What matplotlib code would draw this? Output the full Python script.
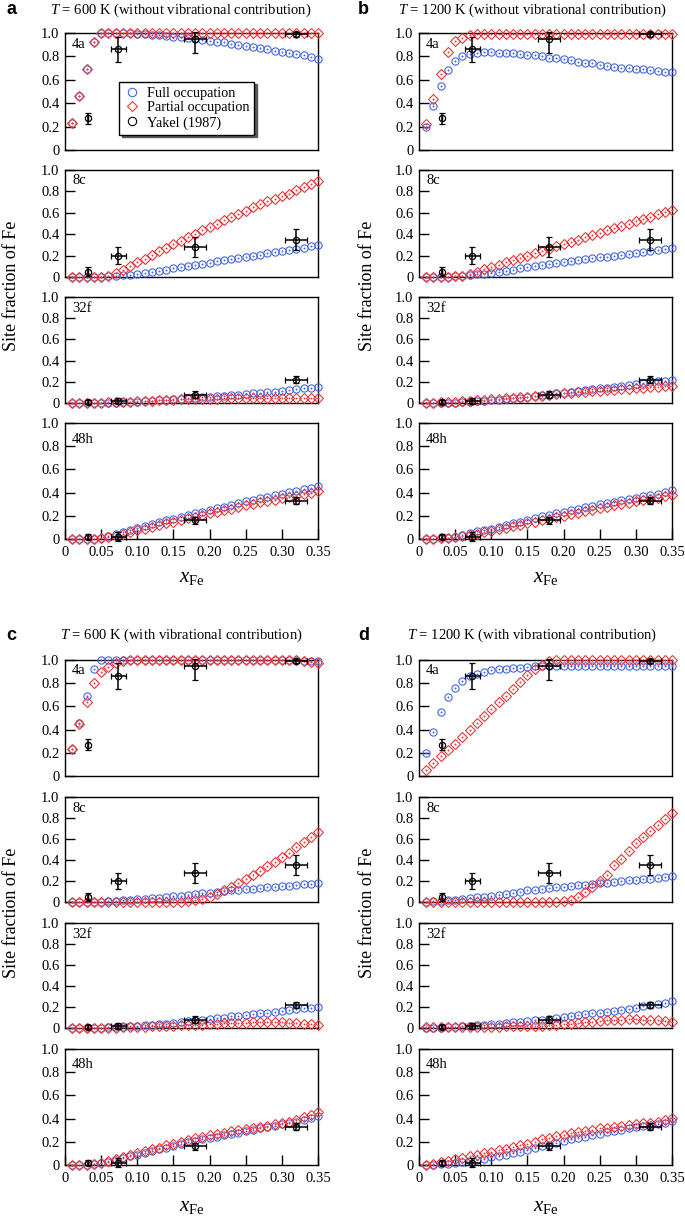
import matplotlib
matplotlib.use('Agg')
import matplotlib.pyplot as plt
from matplotlib.lines import Line2D
import numpy as np

plt.rcParams['font.family'] = ['Liberation Serif', 'DejaVu Serif']
plt.rcParams['mathtext.fontset'] = 'custom'
plt.rcParams['mathtext.rm'] = 'Liberation Serif'
plt.rcParams['mathtext.it'] = 'Liberation Serif:italic'

# ---------------- data ----------------
x_fe = [0.01, 0.02, 0.03, 0.04, 0.05, 0.06, 0.07,
        0.08, 0.09, 0.10, 0.11, 0.12, 0.13, 0.14,
        0.15, 0.16, 0.17, 0.18, 0.19, 0.20, 0.21,
        0.22, 0.23, 0.24, 0.25, 0.26, 0.27, 0.28,
        0.29, 0.30, 0.31, 0.32, 0.33, 0.34, 0.35]

sites = ['4a', '8c', '32f', '48h']
x_ticks = [0, 0.05, 0.10, 0.15, 0.20, 0.25, 0.30, 0.35]
x_ticklabels = ['0', '0.05', '0.10', '0.15', '0.20', '0.25', '0.30', '0.35']
y_ticks = [0, 0.2, 0.4, 0.6, 0.8, 1.0]
y_ticklabels = ['0', '0.2', '0.4', '0.6', '0.8', '1.0']

# Yakel (1987) experimental values
yakel_x = [0.032, 0.074, 0.18, 0.32]
yakel_xerr = [0.0, 0.010, 0.015, 0.015]
yakel_4a = [0.27, 0.86, 0.945, 0.99]
yakel_4a_err_lo = [0.045, 0.11, 0.12, 0.02]
yakel_4a_err_hi = [0.045, 0.11, 0.06, 0.02]
yakel_8c = [0.05, 0.20, 0.28, 0.35]
yakel_8c_err = [0.04, 0.08, 0.095, 0.095]
yakel_32f = [0.01, 0.02, 0.08, 0.22]
yakel_32f_err = [0.02, 0.03, 0.03, 0.03]
yakel_48h = [0.02, 0.02, 0.16, 0.33]
yakel_48h_err = [0.02, 0.04, 0.03, 0.03]

# ---- panel a: T = 600 K, without vibrational contribution ----
a_4a_full = [0.23, 0.46, 0.69, 0.92, 1.00, 1.00, 1.00,
             1.00, 0.997, 0.994, 0.99, 0.986, 0.981, 0.976,
             0.97, 0.964, 0.957, 0.95, 0.943, 0.935, 0.927,
             0.919, 0.91, 0.90, 0.89, 0.88, 0.87, 0.86,
             0.85, 0.84, 0.83, 0.82, 0.81, 0.795, 0.78]
a_4a_part = [0.23, 0.46, 0.69, 0.92, 1.00, 1.00, 1.00,
             1.00, 1.00, 1.00, 1.00, 1.00, 1.00, 1.00,
             1.00, 1.00, 1.00, 1.00, 1.00, 1.00, 1.00,
             1.00, 1.00, 1.00, 1.00, 1.00, 1.00, 1.00,
             1.00, 1.00, 1.00, 1.00, 1.00, 1.00, 1.00]
a_8c_full = [0, 0, 0, 0, 0, 0.005, 0.01,
             0.015, 0.02, 0.03, 0.04, 0.05, 0.06, 0.07,
             0.08, 0.09, 0.10, 0.11, 0.12, 0.135, 0.145,
             0.155, 0.165, 0.175, 0.19, 0.20, 0.21, 0.225,
             0.235, 0.245, 0.255, 0.265, 0.275, 0.29, 0.30]
a_8c_part = [0, 0, 0, 0, 0, 0.01, 0.04,
             0.07, 0.10, 0.14, 0.17, 0.21, 0.24, 0.27,
             0.31, 0.34, 0.37, 0.40, 0.44, 0.47, 0.50,
             0.53, 0.56, 0.59, 0.62, 0.65, 0.68, 0.71,
             0.73, 0.76, 0.78, 0.81, 0.84, 0.87, 0.90]
a_32f_full = [0, 0, 0, 0, 0, 0, 0,
              0.005, 0.008, 0.01, 0.015, 0.02, 0.025, 0.03,
              0.035, 0.04, 0.045, 0.05, 0.055, 0.06, 0.065,
              0.07, 0.075, 0.08, 0.085, 0.09, 0.095, 0.10,
              0.108, 0.115, 0.122, 0.13, 0.138, 0.146, 0.155]
a_32f_part = [0, 0, 0, 0, 0, 0.005, 0.007,
              0.01, 0.013, 0.016, 0.02, 0.023, 0.026, 0.03,
              0.032, 0.034, 0.036, 0.038, 0.04, 0.041, 0.042,
              0.043, 0.044, 0.045, 0.045, 0.046, 0.046, 0.046,
              0.046, 0.046, 0.046, 0.046, 0.045, 0.045, 0.045]
a_48h_full = [0, 0, 0, 0, 0.01, 0.025, 0.04,
              0.06, 0.08, 0.095, 0.11, 0.13, 0.145, 0.16,
              0.175, 0.19, 0.205, 0.22, 0.235, 0.25, 0.265,
              0.28, 0.295, 0.31, 0.325, 0.34, 0.355, 0.365,
              0.38, 0.39, 0.405, 0.415, 0.43, 0.44, 0.455]
a_48h_part = [0, 0, 0, 0, 0.005, 0.015, 0.03,
              0.045, 0.06, 0.075, 0.09, 0.105, 0.12, 0.135,
              0.15, 0.165, 0.18, 0.19, 0.205, 0.22, 0.235,
              0.25, 0.26, 0.275, 0.29, 0.30, 0.315, 0.33,
              0.34, 0.355, 0.365, 0.375, 0.39, 0.40, 0.41]

# ---- panel b: T = 1200 K, without vibrational contribution ----
b_4a_full = [0.20, 0.38, 0.55, 0.68, 0.76, 0.80, 0.82,
             0.83, 0.835, 0.835, 0.833, 0.83, 0.825, 0.82,
             0.815, 0.81, 0.80, 0.79, 0.785, 0.775, 0.765,
             0.755, 0.745, 0.74, 0.73, 0.72, 0.71, 0.705,
             0.70, 0.695, 0.69, 0.68, 0.675, 0.67, 0.665]
b_4a_part = [0.22, 0.44, 0.65, 0.84, 0.93, 0.96, 0.98,
             0.99, 0.99, 0.99, 0.99, 0.99, 0.99, 0.99,
             0.99, 0.99, 0.99, 0.99, 0.99, 0.99, 0.99,
             0.99, 0.99, 0.99, 0.99, 0.99, 0.99, 0.99,
             0.99, 0.99, 0.99, 0.99, 0.99, 0.99, 0.99]
b_8c_full = [0, 0, 0, 0, 0.005, 0.01, 0.02,
             0.025, 0.03, 0.04, 0.05, 0.06, 0.07, 0.08,
             0.09, 0.10, 0.11, 0.12, 0.13, 0.14, 0.15,
             0.155, 0.165, 0.175, 0.185, 0.19, 0.20, 0.21,
             0.215, 0.225, 0.235, 0.24, 0.25, 0.26, 0.27]
b_8c_part = [0, 0, 0, 0, 0.005, 0.01, 0.03,
             0.05, 0.075, 0.095, 0.115, 0.14, 0.16, 0.18,
             0.20, 0.225, 0.245, 0.265, 0.29, 0.31, 0.33,
             0.35, 0.375, 0.395, 0.415, 0.44, 0.46, 0.48,
             0.50, 0.525, 0.545, 0.565, 0.59, 0.61, 0.63]
b_32f_full = [0, 0, 0, 0, 0.003, 0.006, 0.01,
              0.015, 0.02, 0.025, 0.03, 0.035, 0.045, 0.05,
              0.06, 0.065, 0.075, 0.08, 0.09, 0.095, 0.105,
              0.115, 0.12, 0.13, 0.14, 0.145, 0.155, 0.165,
              0.17, 0.18, 0.19, 0.195, 0.205, 0.21, 0.22]
b_32f_part = [0, 0, 0.005, 0.01, 0.01, 0.015, 0.02,
              0.025, 0.03, 0.035, 0.04, 0.045, 0.05, 0.055,
              0.06, 0.065, 0.07, 0.075, 0.085, 0.09, 0.095,
              0.10, 0.105, 0.11, 0.115, 0.12, 0.125, 0.13,
              0.135, 0.14, 0.145, 0.15, 0.155, 0.16, 0.165]
b_48h_full = [0, 0, 0.005, 0.01, 0.02, 0.035, 0.05,
              0.065, 0.08, 0.09, 0.105, 0.12, 0.135, 0.15,
              0.165, 0.18, 0.195, 0.205, 0.22, 0.235, 0.25,
              0.26, 0.275, 0.285, 0.30, 0.31, 0.32, 0.335,
              0.345, 0.355, 0.37, 0.38, 0.39, 0.405, 0.42]
b_48h_part = [0, 0, 0.005, 0.01, 0.015, 0.025, 0.035,
              0.045, 0.06, 0.07, 0.085, 0.095, 0.11, 0.12,
              0.135, 0.15, 0.16, 0.175, 0.19, 0.20, 0.215,
              0.225, 0.24, 0.25, 0.265, 0.275, 0.29, 0.30,
              0.31, 0.325, 0.335, 0.345, 0.355, 0.37, 0.38]

# ---- panel c: T = 600 K, with vibrational contribution ----
c_4a_full = [0.23, 0.46, 0.69, 0.92, 1.00, 1.00, 1.00,
             1.00, 1.00, 1.00, 1.00, 1.00, 1.00, 1.00,
             1.00, 1.00, 1.00, 1.00, 1.00, 1.00, 1.00,
             1.00, 1.00, 1.00, 1.00, 1.00, 1.00, 1.00,
             1.00, 1.00, 1.00, 1.00, 0.99, 0.99, 0.99]
c_4a_part = [0.23, 0.45, 0.64, 0.80, 0.90, 0.94, 0.97,
             0.99, 1.00, 1.00, 1.00, 1.00, 1.00, 1.00,
             1.00, 1.00, 1.00, 1.00, 1.00, 1.00, 1.00,
             1.00, 1.00, 1.00, 1.00, 1.00, 1.00, 1.00,
             1.00, 1.00, 1.00, 1.00, 0.99, 0.98, 0.97]
c_8c_full = [0, 0, 0, 0, 0.003, 0.006, 0.01,
             0.015, 0.02, 0.025, 0.03, 0.035, 0.04, 0.045,
             0.055, 0.06, 0.07, 0.075, 0.085, 0.09, 0.10,
             0.105, 0.11, 0.115, 0.12, 0.125, 0.13, 0.14,
             0.145, 0.15, 0.155, 0.16, 0.17, 0.175, 0.18]
c_8c_part = [0, 0, 0, 0, 0, 0, 0,
             0, 0, 0, 0, 0, 0, 0,
             0, 0, 0.005, 0.015, 0.03, 0.05, 0.08,
             0.11, 0.145, 0.18, 0.22, 0.26, 0.30, 0.34,
             0.38, 0.43, 0.47, 0.52, 0.57, 0.62, 0.665]
c_32f_full = [0, 0, 0, 0, 0.003, 0.006, 0.01,
              0.012, 0.015, 0.02, 0.025, 0.03, 0.035, 0.04,
              0.05, 0.06, 0.065, 0.075, 0.08, 0.09, 0.095,
              0.10, 0.11, 0.115, 0.125, 0.13, 0.14, 0.145,
              0.155, 0.16, 0.17, 0.18, 0.19, 0.195, 0.20]
c_32f_part = [0, 0, 0, 0, 0, 0, 0.003,
              0.005, 0.008, 0.01, 0.012, 0.015, 0.017, 0.02,
              0.022, 0.025, 0.028, 0.03, 0.032, 0.035, 0.04,
              0.045, 0.048, 0.05, 0.052, 0.055, 0.06, 0.06,
              0.06, 0.055, 0.05, 0.045, 0.04, 0.035, 0.03]
c_48h_full = [0, 0, 0.003, 0.006, 0.015, 0.03, 0.045,
              0.06, 0.075, 0.09, 0.105, 0.12, 0.135, 0.15,
              0.165, 0.18, 0.195, 0.21, 0.22, 0.235, 0.245,
              0.26, 0.27, 0.28, 0.295, 0.305, 0.315, 0.33,
              0.34, 0.35, 0.365, 0.375, 0.39, 0.405, 0.42]
c_48h_part = [0, 0, 0.003, 0.008, 0.02, 0.035, 0.05,
              0.07, 0.085, 0.10, 0.12, 0.135, 0.15, 0.17,
              0.185, 0.20, 0.215, 0.23, 0.245, 0.255, 0.27,
              0.28, 0.29, 0.30, 0.31, 0.32, 0.33, 0.34,
              0.35, 0.36, 0.375, 0.39, 0.41, 0.43, 0.455]

# ---- panel d: T = 1200 K, with vibrational contribution ----
d_4a_full = [0.20, 0.38, 0.55, 0.68, 0.76, 0.82, 0.86,
             0.88, 0.90, 0.91, 0.92, 0.925, 0.93, 0.935,
             0.94, 0.945, 0.945, 0.95, 0.95, 0.95, 0.95,
             0.95, 0.95, 0.95, 0.95, 0.95, 0.95, 0.95,
             0.95, 0.95, 0.95, 0.945, 0.945, 0.945, 0.945]
d_4a_part = [0.05, 0.11, 0.17, 0.22, 0.28, 0.34, 0.40,
             0.46, 0.52, 0.58, 0.64, 0.69, 0.75, 0.81,
             0.87, 0.92, 0.96, 0.99, 1.00, 1.00, 1.00,
             1.00, 1.00, 1.00, 1.00, 1.00, 1.00, 1.00,
             1.00, 1.00, 1.00, 1.00, 1.00, 1.00, 1.00]
d_8c_full = [0, 0.005, 0.01, 0.015, 0.02, 0.03, 0.035,
             0.045, 0.05, 0.06, 0.07, 0.08, 0.09, 0.10,
             0.11, 0.115, 0.125, 0.13, 0.14, 0.145, 0.155,
             0.16, 0.165, 0.175, 0.18, 0.185, 0.19, 0.20,
             0.205, 0.21, 0.215, 0.22, 0.23, 0.235, 0.245]
d_8c_part = [0, 0, 0, 0, 0, 0, 0,
             0, 0, 0, 0, 0, 0, 0,
             0, 0, 0, 0, 0, 0.005, 0.02,
             0.05, 0.095, 0.14, 0.20, 0.26, 0.35, 0.41,
             0.49, 0.56, 0.62, 0.68, 0.73, 0.79, 0.85]
d_32f_full = [0, 0, 0, 0.005, 0.01, 0.015, 0.02,
              0.025, 0.03, 0.035, 0.04, 0.045, 0.055, 0.06,
              0.065, 0.075, 0.08, 0.09, 0.10, 0.105, 0.115,
              0.12, 0.13, 0.14, 0.145, 0.155, 0.165, 0.175,
              0.185, 0.195, 0.205, 0.215, 0.225, 0.24, 0.255]
d_32f_part = [0.005, 0.005, 0.005, 0.005, 0.005, 0.01, 0.01,
              0.01, 0.01, 0.01, 0.012, 0.015, 0.015, 0.015,
              0.018, 0.02, 0.022, 0.025, 0.03, 0.035, 0.04,
              0.05, 0.055, 0.06, 0.07, 0.075, 0.08, 0.08,
              0.085, 0.085, 0.08, 0.08, 0.075, 0.07, 0.06]
d_48h_full = [0, 0, 0.005, 0.01, 0.015, 0.025, 0.035,
              0.045, 0.055, 0.065, 0.075, 0.09, 0.10, 0.115,
              0.13, 0.145, 0.16, 0.175, 0.19, 0.205, 0.22,
              0.235, 0.245, 0.26, 0.27, 0.285, 0.295, 0.305,
              0.315, 0.325, 0.335, 0.345, 0.355, 0.365, 0.38]
d_48h_part = [0, 0.01, 0.025, 0.035, 0.05, 0.06, 0.075,
              0.09, 0.10, 0.115, 0.13, 0.14, 0.155, 0.17,
              0.185, 0.20, 0.22, 0.235, 0.25, 0.26, 0.275,
              0.285, 0.295, 0.305, 0.315, 0.32, 0.33, 0.335,
              0.345, 0.35, 0.36, 0.365, 0.375, 0.39, 0.405]

yakel_y = {'4a': (yakel_4a, [yakel_4a_err_lo, yakel_4a_err_hi]),
           '8c': (yakel_8c, yakel_8c_err),
           '32f': (yakel_32f, yakel_32f_err),
           '48h': (yakel_48h, yakel_48h_err)}

panels = [
    ('a', '$T$ = 600 K (without vibrational contribution)',
     {'4a': (a_4a_full, a_4a_part), '8c': (a_8c_full, a_8c_part),
      '32f': (a_32f_full, a_32f_part), '48h': (a_48h_full, a_48h_part)}),
    ('b', '$T$ = 1200 K (without vibrational contribution)',
     {'4a': (b_4a_full, b_4a_part), '8c': (b_8c_full, b_8c_part),
      '32f': (b_32f_full, b_32f_part), '48h': (b_48h_full, b_48h_part)}),
    ('c', '$T$ = 600 K (with vibrational contribution)',
     {'4a': (c_4a_full, c_4a_part), '8c': (c_8c_full, c_8c_part),
      '32f': (c_32f_full, c_32f_part), '48h': (c_48h_full, c_48h_part)}),
    ('d', '$T$ = 1200 K (with vibrational contribution)',
     {'4a': (d_4a_full, d_4a_part), '8c': (d_8c_full, d_8c_part),
      '32f': (d_32f_full, d_32f_part), '48h': (d_48h_full, d_48h_part)}),
]

# ---------------- layout (pixels) ----------------
W, H = 685, 1217
fig = plt.figure(figsize=(W / 100, H / 100), dpi=100)

AX_W = 253
lefts = {'a': 65, 'b': 419, 'c': 65, 'd': 419}
rows = {'a': [(33, 150), (170, 277), (297, 403), (423, 539)],
        'c': [(660, 776), (797, 902), (923, 1028), (1049, 1165)]}
rows['b'] = rows['a']
rows['d'] = rows['c']
title_y = {'a': 10, 'b': 10, 'c': 635, 'd': 635}
title_x = {'a': 181, 'b': 532, 'c': 181, 'd': 532}
letter_x = {'a': 6, 'b': 358, 'c': 6, 'd': 358}
ylab_x = {'a': 12, 'b': 367, 'c': 12, 'd': 367}
xlab_y = {'a': 577, 'b': 577, 'c': 1207, 'd': 1207}

BLUE = '#4466e0'
RED = '#e8393a'

for letter, title, data in panels:
    L = lefts[letter]
    for i, site in enumerate(sites):
        top, bot = rows[letter][i]
        ax = fig.add_axes([L / W, 1 - bot / H, AX_W / W, (bot - top) / H])
        full, part = data[site]
        assert len(full) == len(x_fe) and len(part) == len(x_fe)
        ax.plot(x_fe, full, ls='none', marker='o', ms=5.2, mfc='none', mec=BLUE,
                mew=0.8, clip_on=False, zorder=3)
        ax.plot(x_fe, full, ls='none', marker='o', ms=1.0, mfc=BLUE, mec=BLUE,
                mew=0.3, clip_on=False, zorder=3)
        ax.plot(x_fe, part, ls='none', marker='D', ms=5.0, mfc='none', mec=RED,
                mew=0.8, clip_on=False, zorder=4)
        ax.plot(x_fe, part, ls='none', marker='o', ms=1.0, mfc=RED, mec=RED,
                mew=0.3, clip_on=False, zorder=4)
        yv, ye = yakel_y[site]
        ax.errorbar(yakel_x, yv, yerr=ye, xerr=yakel_xerr, fmt='o', ms=4.5,
                    mfc='none', mec='black', mew=0.9, ecolor='black',
                    elinewidth=1.1, capsize=2.5, capthick=1.1, zorder=5,
                    clip_on=False)
        ax.set_xlim(0, 0.35)
        ax.set_ylim(0, 1.0)
        ax.set_yticks(y_ticks)
        ax.set_yticklabels(y_ticklabels)
        ax.tick_params(axis='y', direction='in', length=7, width=1.0,
                       labelsize=10.5, pad=4, right=False)
        if site == '48h':
            ax.set_xticks(x_ticks)
            ax.set_xticklabels(x_ticklabels)
            ax.tick_params(axis='x', direction='in', length=7, width=1.0,
                           labelsize=10.5, pad=5, top=False)
        else:
            ax.tick_params(axis='x', bottom=False, labelbottom=False, top=False)
        for sp in ax.spines.values():
            sp.set_linewidth(1.0)
        off = 16 if site == '48h' else 11
        ax.text(0.028, 1 - off / (bot - top), site, transform=ax.transAxes,
                fontsize=10.5, ha='left', va='center')
        if letter == 'a' and site == '4a':
            handles = [
                Line2D([], [], ls='none', marker='o', ms=6, mfc='none', mec=BLUE, mew=0.8),
                Line2D([], [], ls='none', marker='D', ms=5.5, mfc='none', mec=RED, mew=0.8),
                Line2D([], [], ls='none', marker='o', ms=6, mfc='none', mec='black', mew=0.8),
            ]
            leg = ax.legend(handles, ['Full occupation', 'Partial occupation', 'Yakel (1987)'],
                            loc='upper left', bbox_to_anchor=(0.213, 0.585),
                            frameon=True, fancybox=False,
                            shadow={'color': '0.35', 'alpha': 1.0},
                            edgecolor='black', framealpha=1, fontsize=10.3,
                            borderpad=0.35, handletextpad=0.4,
                            labelspacing=0.12, handlelength=1.2,
                            borderaxespad=0)
            leg.get_frame().set_linewidth(1.0)
            leg.set_zorder(10)

    fig.text(title_x[letter] / W, 1 - title_y[letter] / H, title,
             fontsize=10.5, ha='center', va='center')
    fig.text(letter_x[letter] / W, 1 - title_y[letter] / H, letter,
             fontsize=13, fontweight='bold', family=['Liberation Sans', 'DejaVu Sans'],
             ha='left', va='center')
    g_top = rows[letter][0][0]
    g_bot = rows[letter][3][1]
    fig.text(ylab_x[letter] / W, 1 - (g_top + g_bot) / 2 / H, 'Site fraction of Fe',
             rotation=90, fontsize=13, ha='center', va='center')
    fig.text((L + AX_W / 2) / W, 1 - xlab_y[letter] / H, r'$x_{\mathrm{Fe}}$',
             fontsize=15, ha='center', va='center')

fig.savefig('out.png', dpi=100)
